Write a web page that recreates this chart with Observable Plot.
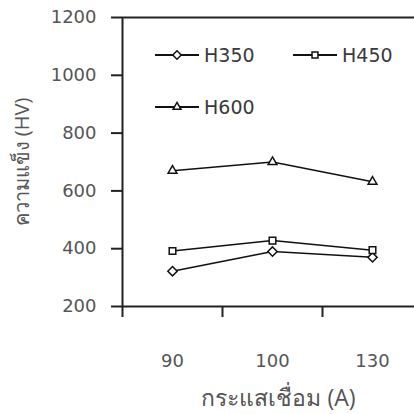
<!DOCTYPE html>
<html><head><meta charset="utf-8">
<script src="https://cdn.jsdelivr.net/npm/d3@7"></script>
<script src="https://cdn.jsdelivr.net/npm/@observablehq/plot@0.6"></script>
<style>
body{margin:0;background:#fff;}
#wrap{position:relative;width:414px;height:414px;overflow:hidden;font-family:"DejaVu Sans","Noto Sans",sans-serif;}
.leg{position:absolute;display:flex;align-items:center;font-size:19px;color:#3a3a3a;}
.leg span{margin-left:5px;}
</style>
</head><body>
<div id="wrap"></div>
<script>
const currents = ["90", "100", "130"];
const seriesNames = ["H350", "H450", "H600"];
const h350 = [322, 390, 370];
const h450 = [392, 428, 395];
const h600 = [670, 700, 632];
const yTicks = [200, 400, 600, 800, 1000, 1200];
const yTitle = "ความแข็ง (HV)";
const xTitle = "กระแสเชื่อม (A)";
const symbolsBy = {H350: "diamond2", H450: "square2", H600: "triangle2"};

const rows = [];
[h350, h450, h600].forEach((arr, s) => arr.forEach((v, i) => rows.push({series: seriesNames[s], x: i + 0.5, y: v})));

const thaiFont = "'Open Sans','Noto Sans',sans-serif";
const chart = Plot.plot({
  width: 414, height: 414,
  marginLeft: 122, marginRight: 0, marginTop: 17, marginBottom: 108,
  style: {fontSize: "18px", fontFamily: "'DejaVu Sans','Noto Sans',sans-serif", color: "#000", background: "transparent"},
  x: {domain: [0, 3], range: [122, 422]},
  y: {domain: [200, 1200]},
  marks: [
    Plot.ruleY([200, 1200], {stroke: "#222", strokeWidth: 2}),
    Plot.ruleX([0], {y1: 200, y2: 1200, stroke: "#222", strokeWidth: 2}),
    Plot.axisY({ticks: yTicks, tickSize: 11, tickPadding: 15, stroke: "#222", strokeWidth: 2, fill: "#555",
      tickFormat: d3.format("d"), label: null}),
    Plot.axisX({ticks: [0, 1, 2, 3], tickSize: 11, tickFormat: () => "", stroke: "#222", strokeWidth: 2, label: null}),
    Plot.axisX({ticks: [0.5, 1.5, 2.5], tickSize: 0, tickPadding: 48, fill: "#555",
      tickFormat: d => currents[Math.floor(d)], label: null}),
    Plot.text([yTitle], {frameAnchor: "left", rotate: -90, dx: -100, fontSize: 20, fontFamily: thaiFont, fill: "#555", textAnchor: "middle", lineAnchor: "middle"}),
    Plot.text([xTitle], {frameAnchor: "bottom", dx: 10, dy: 92, fontSize: 23, fontFamily: thaiFont, fill: "#555", textAnchor: "middle", lineAnchor: "middle"}),
    Plot.line(rows, {x: "x", y: "y", z: "series", stroke: "#111", strokeWidth: 1.5}),
    Plot.dot(rows, {x: "x", y: "y", symbol: d => symbolsBy[d.series], r: 4.2, stroke: "#111", fill: "#fff", strokeWidth: 1.5})
  ]
});
const wrap = document.getElementById("wrap");
wrap.appendChild(chart);

// legend overlay
const legendPos = {H350: [155, 55], H450: [293, 55], H600: [155, 107]};
seriesNames.forEach(name => {
  const [lx, ly] = legendPos[name];
  const div = document.createElement("div");
  div.className = "leg";
  div.style.left = lx + "px";
  div.style.top = (ly - 14) + "px";
  div.style.height = "28px";
  const svg = d3.create("svg").attr("width", 44).attr("height", 28);
  svg.append("line").attr("x1", 0).attr("x2", 44).attr("y1", 14).attr("y2", 14).attr("stroke", "#111").attr("stroke-width", 2);
  const sym = {H350: d3.symbolDiamond2, H450: d3.symbolSquare2, H600: d3.symbolTriangle2}[name];
  svg.append("path").attr("d", d3.symbol(sym, 45)()).attr("transform", "translate(22,14)")
    .attr("fill", "#fff").attr("stroke", "#111").attr("stroke-width", 1.5);
  div.appendChild(svg.node());
  const sp = document.createElement("span");
  sp.textContent = name;
  div.appendChild(sp);
  wrap.appendChild(div);
});
</script>
</body></html>
